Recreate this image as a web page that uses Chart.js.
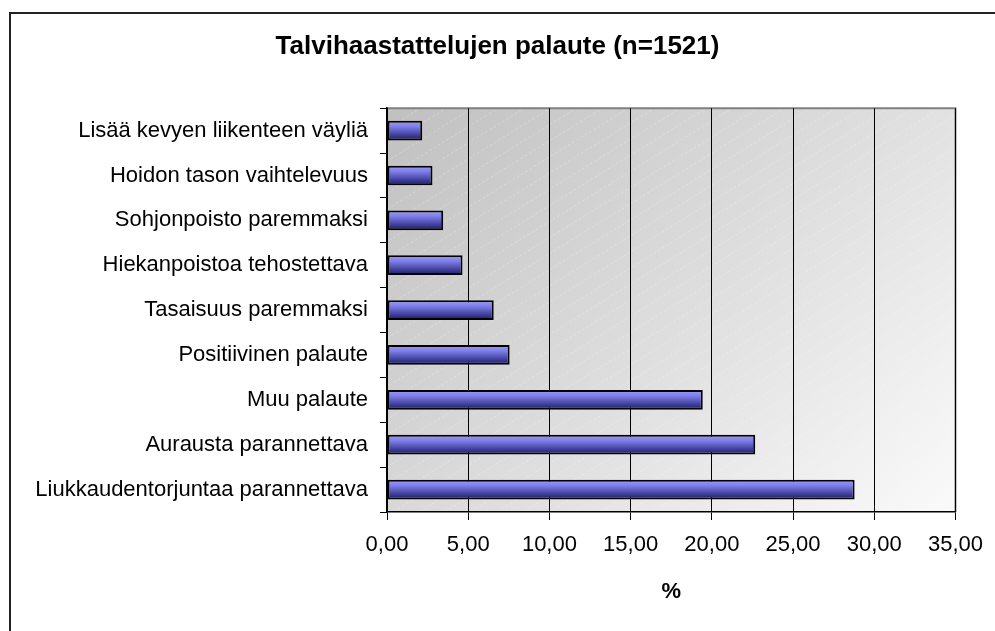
<!DOCTYPE html>
<html>
<head>
<meta charset="utf-8">
<script src="https://cdn.jsdelivr.net/npm/chart.js@4/dist/chart.umd.min.js"></script>
<style>
  html, body { margin: 0; padding: 0; background: #fff; }
  #wrap { position: relative; width: 995px; height: 631px; }
</style>
</head>
<body>
<div id="wrap"><canvas id="feedbackChart"></canvas></div>
<script>
// data
const categories = [
  'Lisää kevyen liikenteen väyliä',
  'Hoidon tason vaihtelevuus',
  'Sohjonpoisto paremmaksi',
  'Hiekanpoistoa tehostettava',
  'Tasaisuus paremmaksi',
  'Positiivinen palaute',
  'Muu palaute',
  'Aurausta parannettava',
  'Liukkaudentorjuntaa parannettava'
];
const percents = [2.17, 2.80, 3.46, 4.65, 6.57, 7.55, 19.44, 22.67, 28.79];
const xTicks = [0, 5, 10, 15, 20, 25, 30, 35];
const chartTitle = 'Talvihaastattelujen palaute (n=1521)';
const xTitle = '%';

const FONT = "'Liberation Sans', Arial, sans-serif";
const BAR_PCT = 0.44;

// Excel-ish shaded bar fill, computed from the bar's own slot on the y scale
function barFill(ctx){
  const chart = ctx.chart;
  const y = chart.scales && chart.scales.y;
  if(!y || ctx.dataIndex === undefined) return '#6666cc';
  const c = y.getPixelForValue(ctx.dataIndex);
  const h = (y.height / categories.length) * BAR_PCT;
  if(!isFinite(c) || !isFinite(h) || h <= 0) return '#6666cc';
  const g = chart.ctx.createLinearGradient(0, c - h/2, 0, c + h/2);
  g.addColorStop(0, '#9c9cff');
  g.addColorStop(0.3, '#7e7eea');
  g.addColorStop(0.6, '#5252b2');
  g.addColorStop(1, '#181866');
  return g;
}

// page frame + plot area background
const backdrop = {
  id: 'backdrop',
  beforeDraw(chart){
    const { ctx, chartArea: a } = chart;
    const w = a.right - a.left, h = a.bottom - a.top;
    ctx.save();
    ctx.fillStyle = '#fff';
    ctx.fillRect(0, 0, chart.width, chart.height);
    ctx.strokeStyle = '#222';
    ctx.lineWidth = 2;
    ctx.strokeRect(10, 13, 2000, 2000);

    // 45 degree grey-to-white fill
    const d = (w + h) / 2;
    const g = ctx.createLinearGradient(a.left, a.top, a.left + d, a.top + d);
    g.addColorStop(0, '#c0c0c0');
    g.addColorStop(1, '#fafafa');
    ctx.fillStyle = g;
    ctx.fillRect(a.left, a.top, w, h);

    // faint diagonal hatch
    ctx.beginPath();
    ctx.rect(a.left, a.top, w, h);
    ctx.clip();
    ctx.strokeStyle = 'rgba(255,255,255,0.25)';
    ctx.lineWidth = 1;
    ctx.setLineDash([3, 2]);
    for(let x = a.left - 800; x < a.right; x += 26){
      ctx.beginPath();
      ctx.moveTo(x, a.bottom);
      ctx.lineTo(x + 700, a.bottom - 700 * 0.62);
      ctx.stroke();
    }
    ctx.restore();

    // grey top/right edge of plot
    ctx.save();
    ctx.strokeStyle = '#808080';
    ctx.lineWidth = 2;
    ctx.beginPath();
    ctx.moveTo(a.left, a.top);
    ctx.lineTo(a.right, a.top);
    ctx.lineTo(a.right, a.bottom);
    ctx.stroke();
    ctx.restore();
  }
};

document.addEventListener('DOMContentLoaded', () => {
  const el = document.getElementById('feedbackChart');
  new Chart(el, {
    type: 'bar',
    data: {
      labels: categories,
      datasets: [{
        data: percents,
        backgroundColor: barFill,
        borderColor: '#000',
        borderWidth: 2,
        borderSkipped: false,
        barPercentage: BAR_PCT,
        categoryPercentage: 1
      }]
    },
    plugins: [backdrop],
    options: {
      indexAxis: 'y',
      responsive: true,
      maintainAspectRatio: false,
      animation: false,
      layout: { padding: 0 },
      plugins: {
        legend: { display: false },
        tooltip: { enabled: false },
        title: {
          display: true,
          text: chartTitle,
          color: '#000',
          font: { family: FONT, size: 26, weight: 'bold' },
          padding: { top: 31, bottom: 46 }
        }
      },
      scales: {
        x: {
          min: 0, max: 35,
          afterBuildTicks(s){ s.ticks = xTicks.map(v => ({ value: v })); },
          ticks: {
            color: '#000',
            font: { family: FONT, size: 22 },
            padding: 12,
            maxRotation: 0,
            callback: v => Number(v).toFixed(2).replace('.', ',')
          },
          grid: { color: '#000', lineWidth: 1, tickLength: 8 },
          border: { color: '#000', width: 1.5 },
          title: {
            display: true,
            text: xTitle,
            color: '#000',
            font: { family: FONT, size: 22, weight: 'bold' },
            padding: { top: 0, bottom: 26 }
          },
          afterFit(s){ s.height = 119; }
        },
        y: {
          ticks: {
            color: '#000',
            font: { family: FONT, size: 22 },
            padding: 12
          },
          grid: { drawOnChartArea: false, offset: true, tickLength: 7, color: '#000' },
          border: { color: '#000', width: 1.5 },
          afterFit(s){ s.width = 387; }
        },
        // empty right-hand strip so the title stays centred on the whole canvas
        yRight: {
          type: 'linear',
          position: 'right',
          ticks: { display: false },
          grid: { display: false },
          border: { display: false },
          afterFit(s){ s.width = 36; }
        }
      }
    }
  });
});
</script>
</body>
</html>
